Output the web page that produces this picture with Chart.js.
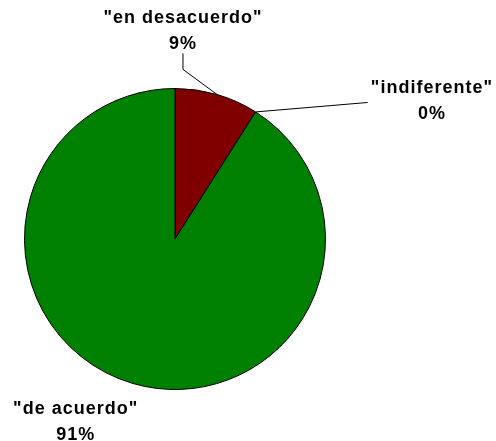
<!DOCTYPE html>
<html><head><meta charset="utf-8">
<script src="https://cdn.jsdelivr.net/npm/chart.js@4/dist/chart.umd.min.js"></script>
<style>html,body{margin:0;padding:0;background:#fff;}#wrap{width:496px;height:441px;position:relative;}</style>
</head><body><div id="wrap"><canvas id="c"></canvas></div>
<script>
const categories = ['"en desacuerdo"', '"indiferente"', '"de acuerdo"'];
const values = [9, 0, 91];
const percentLabels = ['9%', '0%', '91%'];
const colors = ['#800000', '#808080', '#008000'];

// label placement relative to pie center, in units of radius (style only)
const labelPlaces = [
  {tx: 0.053, ty: -1.467, elbow: [0.053, -1.127], end: [0.053, -1.18]},
  {tx: 1.707, ty: -1.0, elbow: null, end: [1.28, -0.907]},
  {tx: -0.66, ty: 1.13, elbow: null, end: null}
];

const labelPlugin = {
  id: 'pieLabels',
  afterDraw(chart) {
    const ctx = chart.ctx;
    const meta = chart.getDatasetMeta(0);
    ctx.save();
    meta.data.forEach((arc, i) => {
      const p = arc.getProps(['x','y','startAngle','endAngle','outerRadius'], true);
      const r = p.outerRadius;
      const mid = (p.startAngle + p.endAngle) / 2;
      const ax = p.x + r * Math.cos(mid), ay = p.y + r * Math.sin(mid);
      const lp = labelPlaces[i];
      ctx.strokeStyle = '#000';
      ctx.lineWidth = 1;
      if (lp.end) {
        ctx.beginPath();
        ctx.moveTo(ax, ay);
        if (lp.elbow) {
          ctx.lineTo(p.x + lp.elbow[0]*r, p.y + lp.elbow[1]*r);
          ctx.lineTo(p.x + lp.end[0]*r, p.y + lp.end[1]*r - 8);
        } else {
          ctx.lineTo(p.x + lp.end[0]*r, p.y + lp.end[1]*r);
        }
        ctx.stroke();
      }
      ctx.fillStyle = '#000';
      ctx.font = 'bold 18px "Liberation Sans", Arial, sans-serif';
      try { ctx.letterSpacing = '1px'; } catch(e) {}
      ctx.textAlign = 'center';
      ctx.textBaseline = 'middle';
      const tx = p.x + lp.tx * r, ty = p.y + lp.ty * r;
      ctx.fillText(categories[i], tx, ty);
      ctx.fillText(percentLabels[i], tx, ty + 26);
    });
    ctx.restore();
  }
};

new Chart(document.getElementById('c'), {
  type: 'pie',
  data: {
    labels: categories,
    datasets: [{
      data: values,
      backgroundColor: colors,
      borderColor: '#000000',
      borderWidth: 1
    }]
  },
  options: {
    responsive: true,
    maintainAspectRatio: false,
    animation: false,
    rotation: 0,
    layout: {padding: {left: 24, right: 170, top: 88, bottom: 51}},
    plugins: {legend: {display: false}, tooltip: {enabled: false}}
  },
  plugins: [labelPlugin]
});
</script>
</body></html>
